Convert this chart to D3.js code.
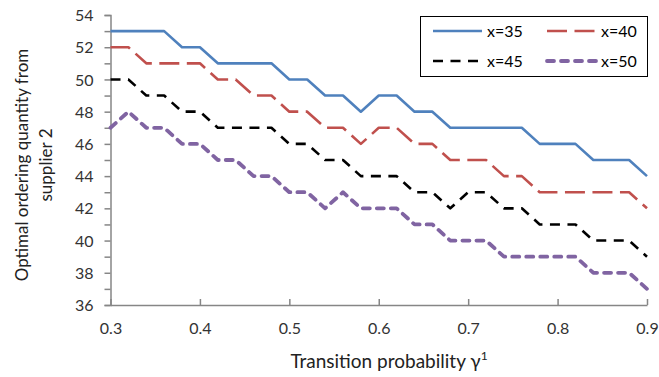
<!DOCTYPE html>
<html><head><meta charset="utf-8">
<script src="https://cdn.jsdelivr.net/npm/d3@7"></script>
<style>body{margin:0;background:#fff}svg{display:block;font-family:Lato,"Open Sans",sans-serif}</style>
</head><body><svg id="c" width="659" height="377"></svg>
<script>
const gammas = d3.range(31).map(i => +(0.3 + i * 0.02).toFixed(2));
const seriesNames = ["x=35", "x=40", "x=45", "x=50"];
const x35 = [53,53,53,53,52,52,51,51,51,51,50,50,49,49,48,49,49,48,48,47,47,47,47,47,46,46,46,45,45,45,44];
const x40 = [52,52,51,51,51,51,50,50,49,49,48,48,47,47,46,47,47,46,46,45,45,45,44,44,43,43,43,43,43,43,42];
const x45 = [50,50,49,49,48,48,47,47,47,47,46,46,45,45,44,44,44,43,43,42,43,43,42,42,41,41,41,40,40,40,39];
const x50 = [47,48,47,47,46,46,45,45,44,44,43,43,42,43,42,42,42,41,41,40,40,40,39,39,39,39,39,38,38,38,37];
const xTicks = [0.3,0.4,0.5,0.6,0.7,0.8,0.9];
const yTicks = [36,38,40,42,44,46,48,50,52,54];

const svg = d3.select("#c");
const x = d3.scaleLinear().domain([0.3, 0.9]).range([110.5, 647]);
const y = d3.scaleLinear().domain([36, 54]).range([305, 15]);

const axisColor = "#868686";
// y axis
const ya = svg.append("g").attr("transform", "translate(110.5,0)")
  .call(d3.axisLeft(y).tickValues(d3.range(36, 55, 1)).tickSize(6).tickFormat(d => yTicks.includes(d) ? d : ""));
ya.select(".domain").attr("stroke", axisColor).attr("stroke-width", 1.5);
ya.selectAll(".tick line").attr("stroke", axisColor).attr("stroke-width", 1.5);
ya.selectAll(".tick text").attr("fill", "#333").attr("font-size", 16).attr("font-family", "Lato").attr("x", -17).attr("dy", "0.35em");

// x axis
const xa = svg.append("g").attr("transform", "translate(0,305)")
  .call(d3.axisBottom(x).tickValues(xTicks).tickSize(-6).tickSizeOuter(0).tickFormat(d3.format(".1f")));
xa.select(".domain").attr("stroke", axisColor).attr("stroke-width", 1.5);
xa.selectAll(".tick line").attr("stroke", axisColor).attr("stroke-width", 1.5);
xa.selectAll(".tick text").attr("fill", "#333").attr("font-size", 16).attr("font-family", "Lato").attr("y", 18).attr("dy", "0.71em");

const styles = [
  {c:"#4F81BD", w:2.6, d:null, cap:"butt"},
  {c:"#C0504D", w:2.6, d:"20,7.5", cap:"butt"},
  {c:"#000000", w:2.6, d:"10,7.5", cap:"butt"},
  {c:"#8064A2", w:3.8, d:"7,7", cap:"round"}
];
const allSeries = [x35, x40, x45, x50];
const line = d3.line().x((d, i) => x(gammas[i])).y(d => y(d));
allSeries.forEach((s, k) => {
  svg.append("path").datum(s).attr("d", line).attr("fill", "none")
    .attr("stroke", styles[k].c).attr("stroke-width", styles[k].w)
    .attr("stroke-dasharray", styles[k].d).attr("stroke-linecap", styles[k].cap)
    .attr("stroke-linejoin", "round");
});

// legend
const lg = svg.append("g");
lg.append("rect").attr("x", 420.5).attr("y", 16.5).attr("width", 227).attr("height", 60)
  .attr("fill", "#fff").attr("stroke", "#000").attr("stroke-width", 1);
const pos = [[433,31],[547,31],[433,61],[547,61]];
seriesNames.forEach((n, k) => {
  const [lx, ly] = pos[k];
  lg.append("line").attr("x1", lx).attr("x2", lx + 49).attr("y1", ly).attr("y2", ly)
    .attr("stroke", styles[k].c).attr("stroke-width", styles[k].w)
    .attr("stroke-dasharray", styles[k].d).attr("stroke-linecap", styles[k].cap);
  lg.append("text").attr("x", lx + 54).attr("y", ly).attr("dy", "0.35em")
    .attr("font-size", 16).attr("fill", "#000").text(n);
});

// axis titles
const xt = svg.append("text").attr("x", 389).attr("y", 368).attr("text-anchor", "middle")
  .attr("font-size", 19).attr("fill", "#222");
xt.append("tspan").text("Transition probability γ");
xt.append("tspan").attr("font-size", 12).attr("dy", -8).text("1");

const yt = svg.append("text").attr("transform", "translate(0,165) rotate(-90)")
  .attr("text-anchor", "middle").attr("font-size", 17).attr("fill", "#222");
yt.append("tspan").attr("x", 0).attr("y", 28).text("Optimal ordering quantity from");
yt.append("tspan").attr("x", 0).attr("y", 52).text("supplier 2");
</script></body></html>
